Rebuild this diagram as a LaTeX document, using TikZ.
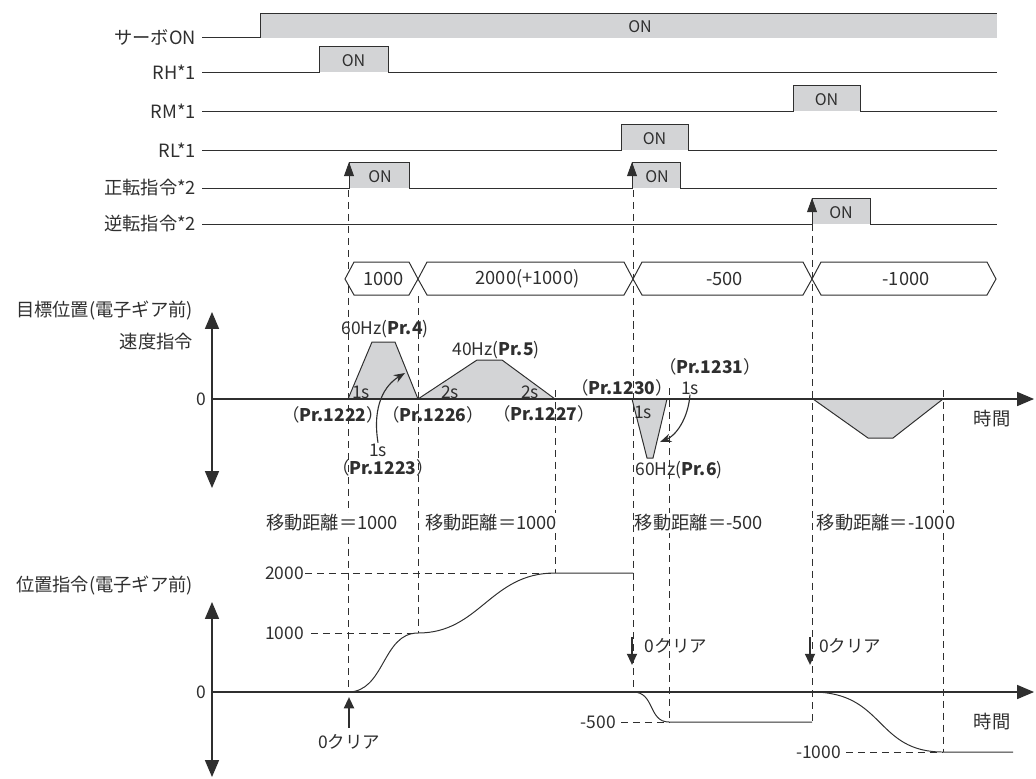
\documentclass[tikz,border=0pt]{standalone}
\usepackage{fontspec}
\setmainfont{Noto Sans CJK JP}
\usetikzlibrary{arrows.meta}
\definecolor{lineclr}{HTML}{2F2F2F}
\definecolor{onclr}{HTML}{D3D4D6}
\begin{document}
\begin{tikzpicture}[
        x=0.025cm, y=-0.025cm,
        font=\fontsize{13}{15}\selectfont,
        text=lineclr,
        sig line/.style  ={draw=lineclr, line width=0.7pt},
        sig on/.style    ={fill=onclr},
        guide/.style     ={draw=lineclr, line width=0.6pt, dash pattern=on 5pt off 3.5pt},
        axis/.style      ={draw=lineclr, line width=0.8pt, -{Triangle[width=10pt,length=12pt]}},
        axis both/.style ={draw=lineclr, line width=0.8pt, {Triangle[width=10pt,length=12pt]}-{Triangle[width=10pt,length=12pt]}},
        edge tip/.style  ={draw=lineclr, line width=0.7pt, -{Triangle[width=7pt,length=10pt]}},
        clr arrow/.style ={draw=lineclr, line width=1.6pt, -{Triangle[width=7pt,length=8pt]}},
        bend tip/.style  ={draw=lineclr, line width=0.8pt, -{Stealth[width=6pt,length=8pt]}},
        profile/.style   ={draw=lineclr, line width=0.7pt, fill=onclr},
        lbl/.style       ={inner sep=0.5pt},
        on/.style        ={font=\fontsize{11.4}{13}\selectfont},
        mid/.style       ={font=\fontsize{12.4}{14}\selectfont},
        dist/.style      ={inner sep=1pt, fill=white},
    ]
    \useasboundingbox (0,0) rectangle (1036,778);
    %% --- guide lines (drawn first, everything else on top) ----------------
    \foreach \x/\ya/\yb in {348/190/692, 418/296/633, 555/390/573, 633/190/692,
            669/388/722, 812/224/722, 943/390/752} {
            \draw[guide] (\x,\ya) -- (\x,\yb);
        }
    %% --- input signals -----------------------------------------------------
    \foreach \nm/\y/\lab in {svon/37/サーボON, rh/72/RH*1, rm/111/RM*1, rl/150/RL*1,
            fwd/188/正転指令*2, rev/224/逆転指令*2} {
            \node[anchor=east, lbl] (\nm) at (197,\y) {\lab};
        }
    \fill[sig on] (260,13) rectangle (997,38);
    \draw[sig line] (202,37) -- (260,37) -- (260,13) -- (997,13);
    \node[on] (svonon) at (640,27) {ON};
    \foreach \y/\a/\b/\nm in {72/319/388/rhon, 111/793/860/rmon, 150/621/688/rlon, 224/812/870/revon} {
            \fill[sig on] (\a,\y-26) rectangle (\b,\y);
            \draw[sig line] (202,\y) -- (\a,\y) -- (\a,\y-26) -- (\b,\y-26) -- (\b,\y) -- (997,\y);
            \node[on] (\nm) at ({(\a+\b)/2},\y-11) {ON};
        }
    \draw[edge tip] (812,224) -- (812,198);
    % forward command: two pulses
    \fill[sig on] (349,162) rectangle (409,188);
    \fill[sig on] (632,162) rectangle (680,188);
    \draw[sig line] (202,188) -- (349,188) -- (349,162) -- (409,162) -- (409,188)
        -- (632,188) -- (632,162) -- (680,162) -- (680,188) -- (997,188);
    \draw[edge tip] (349,188) -- (349,162);
    \draw[edge tip] (632,188) -- (632,162);
    \node[on] (fwdon1) at (380,177) {ON};
    \node[on] (fwdon2) at (657,177) {ON};
    %% --- target position bus -----------------------------------------------
    \foreach \a/\b/\v/\nm in {345/418/1000/b1, 418/633/2000(+1000)/b2, 633/812/-500/b3, 812/996/-1000/b4} {
            \draw[sig line, fill=white] (\a,279) -- (\a+9,262) -- (\b-9,262) -- (\b,279)
                -- (\b-9,295) -- (\a+9,295) -- cycle;
            \node (\nm) at ({(\a+\b)/2+2},279) {\v};
        }
    \node[anchor=east, lbl] (tgt) at (194,310) {目標位置(電子ギア前)};
    %% --- speed command -----------------------------------------------------
    \node[anchor=east, lbl] (spd) at (194,342) {速度指令};
    \draw[profile] (348,399) -- (372,342) -- (395,342) -- (418,399) -- cycle;
    \draw[profile] (418,399) -- (477,360) -- (502,360) -- (555,399) -- cycle;
    \draw[profile] (632,399) -- (647,458) -- (653,458) -- (667,399) -- cycle;
    \draw[profile] (813,399) -- (868,438) -- (893,438) -- (943,399) -- cycle;
    \draw[axis both] (212,488) -- (212,312);
    \draw[axis] (212,399) -- (1034,399);
    \node[anchor=east, lbl, mid] (spd0) at (207,399) {0};
    \node (spdt) at (992,419) {時間};
    \node[mid] (f4) at (385,329) {60Hz(\textbf{Pr.4})};
    \node[mid] (f5) at (496,350) {40Hz(\textbf{Pr.5})};
    \node[mid] (f6) at (679,470) {60Hz(\textbf{Pr.6})};
    \node[lbl, mid] (s1222) at (361,392) {1s};
    \node[lbl, mid] (p1222) at (333,415) {（\textbf{Pr.1222}）};
    \node[lbl, mid] (p1226) at (433,415) {（\textbf{Pr.1226}）};
    \node[lbl, mid] (s1223) at (378,450) {1s};
    \node[lbl, mid] (p1223) at (383,468) {（\textbf{Pr.1223}）};
    \node[lbl, mid] (s1226) at (450,392) {2s};
    \node[lbl, mid] (s1227) at (530,392) {2s};
    \node[lbl, mid] (p1227) at (544,414) {（\textbf{Pr.1227}）};
    \node[lbl, mid] (p1230) at (622,388) {（\textbf{Pr.1230}）};
    \node[lbl, mid] (s1230) at (643,412) {1s};
    \node[inner sep=0pt, mid] (p1231) at (710,367) {（\textbf{Pr.1231}）};
    \node[inner sep=0pt, mid] (s1231) at (690,388) {1s};
    \draw[bend tip] (s1223.north) .. controls (372,405) and (385,385) .. (405,373);
    \draw[bend tip] (s1231.south) .. controls (688,420) and (675,436) .. (660,442);
    %% --- travel distance ---------------------------------------------------
    \foreach \x/\d/\nm in {332/1000/d1, 491/1000/d2, 699/-500/d3, 886/-1000/d4} {
            \node[dist] (\nm) at (\x,523) {移動距離＝\d};
        }
    %% --- position command --------------------------------------------------
    \node[anchor=east, lbl] (pos) at (194,585) {位置指令(電子ギア前)};
    \node[anchor=east, lbl, mid] (p2000) at (305,573) {2000};
    \node[anchor=east, lbl, mid] (p1000) at (305,633) {1000};
    \node[anchor=east, lbl, mid] (m500) at (617,722) {-500};
    \node[anchor=east, lbl, mid] (m1000) at (842,752) {-1000};
    \draw[guide] (p2000.east) -- (555,573);
    \draw[guide] (p1000.east) ++(6,0) -- (418,633);
    \draw[guide] (m500.east) ++(4,0) -- (669,722);
    \draw[guide] (m1000.east) ++(4,0) -- (943,752);
    \draw[sig line] (348,692) .. controls (385,692) and (382,633) .. (418,633)
        .. controls (480,633) and (490,573) .. (555,573) -- (633,573);
    \draw[sig line] (633,692) .. controls (655,692) and (648,722) .. (669,722) -- (812,722);
    \draw[sig line] (812,692) .. controls (885,692) and (875,752) .. (943,752) -- (1013,752);
    \draw[axis both] (212,777) -- (212,602);
    \draw[axis] (212,692) -- (1034,692);
    \node[anchor=east, lbl, mid] (pos0) at (207,692) {0};
    \node (post) at (992,722) {時間};
    % zero clear marks
    \node[mid] (clr1) at (349,742) {0クリア};
    \node[anchor=west, lbl, mid] (clr2) at (644,646) {0クリア};
    \node[anchor=west, lbl, mid] (clr3) at (818,646) {0クリア};
    \draw[clr arrow] (clr1.north) ++(0,-2) -- (349,697);
    \draw[clr arrow] (632,637) -- (632,665);
    \draw[clr arrow] (810,637) -- (810,665);
\end{tikzpicture}
\end{document}
